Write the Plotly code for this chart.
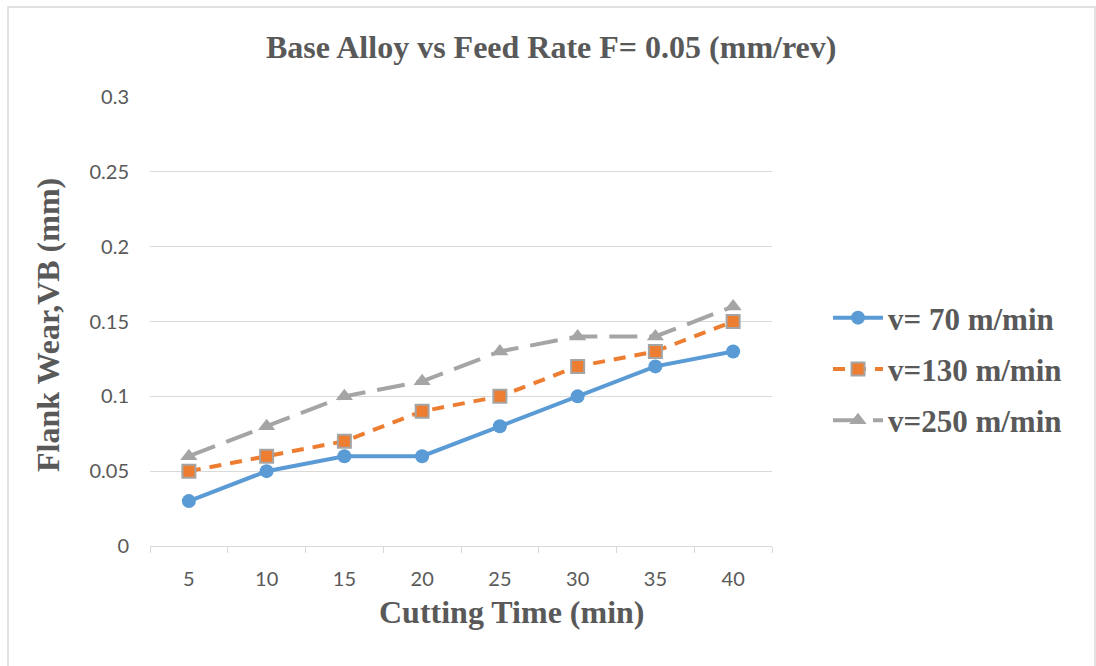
import plotly.graph_objects as go

# Cutting time categories (min)
cutting_time = ["5", "10", "15", "20", "25", "30", "35", "40"]

# Flank wear VB (mm) at each cutting speed
wear_v70 = [0.03, 0.05, 0.06, 0.06, 0.08, 0.10, 0.12, 0.13]
wear_v130 = [0.05, 0.06, 0.07, 0.09, 0.10, 0.12, 0.13, 0.15]
wear_v250 = [0.06, 0.08, 0.10, 0.11, 0.13, 0.14, 0.14, 0.16]

y_ticks = [0, 0.05, 0.1, 0.15, 0.2, 0.25, 0.3]
y_tick_text = ["0", "0.05", "0.1", "0.15", "0.2", "0.25", "0.3"]

BLUE = "#5B9BD5"
ORANGE = "#ED7D31"
GRAY = "#A5A5A5"
TEXT = "#595959"
SERIF = "Liberation Serif, Times New Roman, serif"
SANS = "Lato, Carlito, Calibri, sans-serif"

fig = go.Figure()

fig.add_trace(go.Scatter(
    x=cutting_time, y=wear_v70, mode="lines+markers", name="v= 70 m/min",
    legendgroup="v70",
    line=dict(color=BLUE, width=4),
    marker=dict(symbol="circle", size=14, color=BLUE),
))
fig.add_trace(go.Scatter(
    x=cutting_time, y=wear_v130, mode="lines+markers", name="v=130 m/min",
    legendgroup="v130",
    line=dict(color=ORANGE, width=4, dash="12px,9px"),
    marker=dict(symbol="square", size=13, color=ORANGE,
                line=dict(color=GRAY, width=2)),
))
fig.add_trace(go.Scatter(
    x=cutting_time, y=wear_v250, mode="lines+markers", name="v=250 m/min",
    legendgroup="v250",
    line=dict(color=GRAY, width=4, dash="28px,12px"),
    marker=dict(symbol="triangle-up", size=15, color=GRAY),
))

fig.update_layout(
    width=1096, height=666,
    margin=dict(l=150, r=324, t=97, b=120),
    paper_bgcolor="white", plot_bgcolor="white",
    showlegend=True,
    legend=dict(
        x=(828 - 150) / 622, y=(546 - 369) / 449, xanchor="left", yanchor="middle",
        font=dict(family=SERIF, size=31, color=TEXT, weight="bold"),
        traceorder="grouped", tracegroupgap=8, itemwidth=50,
        bgcolor="rgba(0,0,0,0)",
    ),
    xaxis=dict(
        type="category", range=[-0.5, 7.5],
        tickson="boundaries", ticks="outside", ticklen=6,
        tickcolor="#D9D9D9",
        showline=True, linecolor="#D9D9D9", linewidth=1,
        showgrid=False, zeroline=False,
        tickfont=dict(family=SANS, size=20, color=TEXT),
        ticklabelstandoff=15,
    ),
    yaxis=dict(
        range=[0, 0.3], tickvals=y_ticks, ticktext=y_tick_text,
        showgrid=True, gridcolor="#D9D9D9", gridwidth=1,
        zeroline=False, showline=False, ticks="",
        tickfont=dict(family=SANS, size=20, color=TEXT),
        ticklabelstandoff=20,
    ),
    shapes=[dict(
        type="rect", xref="paper", yref="paper",
        x0=-142 / 622, x1=1.0 + 323 / 622, y0=-0.3, y1=1.0 + 90 / 449,
        line=dict(color="#D9D9D9", width=1.5), layer="below",
    )],
    annotations=[
        dict(text="<b>Base Alloy vs Feed Rate F= 0.05 (mm/rev)</b>",
             xref="paper", yref="paper", x=(551 - 150) / 622, y=1.0 + 50 / 449,
             xanchor="center", yanchor="middle", showarrow=False,
             font=dict(family=SERIF, size=32, color=TEXT)),
        dict(text="<b>Cutting Time (min)</b>",
             xref="paper", yref="paper", x=(512 - 150) / 622, y=-66 / 449,
             xanchor="center", yanchor="middle", showarrow=False,
             font=dict(family=SERIF, size=32, color=TEXT)),
        dict(text="<b>Flank Wear,VB (mm)</b>", textangle=-90,
             xref="paper", yref="paper", x=(48 - 150) / 622, y=(546 - 325) / 449,
             xanchor="center", yanchor="middle", showarrow=False,
             font=dict(family=SERIF, size=32, color=TEXT)),
    ],
)

fig.write_html("out.html")
